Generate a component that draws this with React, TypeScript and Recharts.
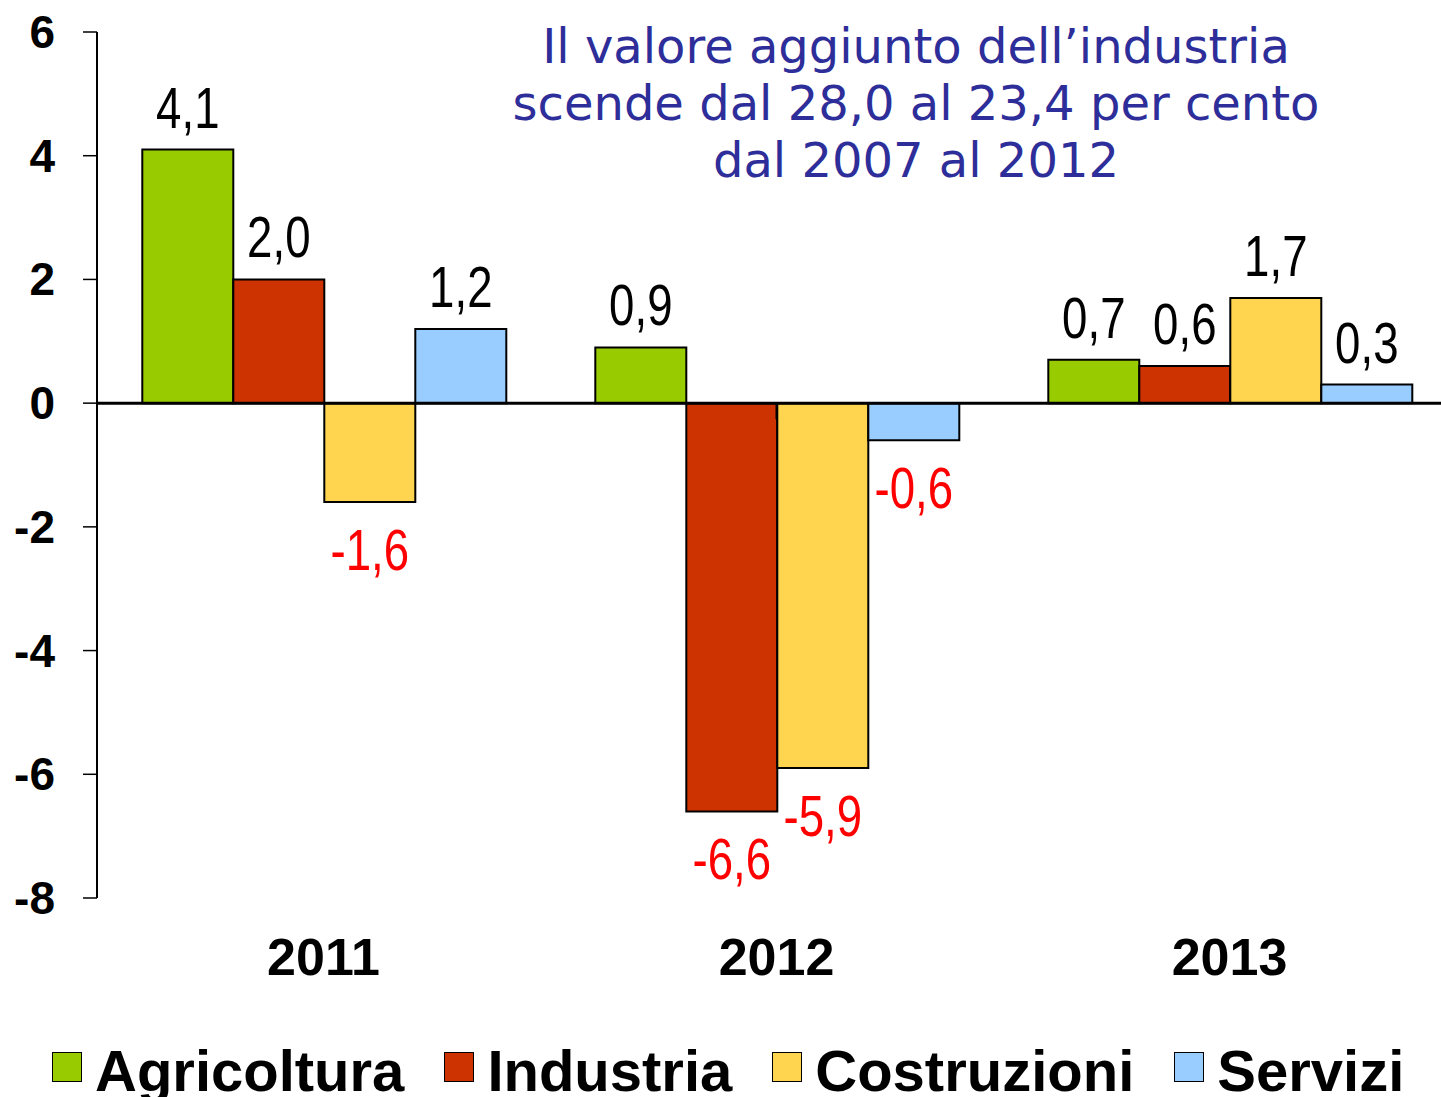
import * as React from "react";
import {
  BarChart,
  Bar,
  XAxis,
  YAxis,
  ReferenceLine,
  LabelList,
  Legend,
} from "recharts";

// values (percent change)
const years = ["2011", "2012", "2013"];
const agricoltura = [4.1, 0.9, 0.7];
const industria = [2.0, -6.6, 0.6];
const costruzioni = [-1.6, -5.9, 1.7];
const servizi = [1.2, -0.6, 0.3];
const yTicks = [-8, -6, -4, -2, 0, 2, 4, 6];
const titleLines = [
  "Il valore aggiunto dell\u2019industria",
  "scende dal 28,0 al 23,4 per cento",
  "dal 2007 al 2012",
];

const series = [
  { key: "Agricoltura", color: "#99CC00" },
  { key: "Industria", color: "#CC3300" },
  { key: "Costruzioni", color: "#FFD44F" },
  { key: "Servizi", color: "#99CCFF" },
];

const data = years.map((year, i) => ({
  year,
  Agricoltura: agricoltura[i],
  Industria: industria[i],
  Costruzioni: costruzioni[i],
  Servizi: servizi[i],
}));

const ARIAL = "'Liberation Sans', Arial, sans-serif";
const fmt = (v: number) => v.toFixed(1).replace(".", ",");

// value label: black above positive bars, red below negative ones
// (narrow face faked with a horizontal squeeze)
const ValueLabel = (props: any) => {
  const { x, y, width, height, value } = props;
  const top = Math.min(y, y + height);
  const bottom = Math.max(y, y + height);
  const neg = value < 0;
  const cx = x + width / 2;
  const by = neg ? bottom + 68 : top - 22;
  return (
    <text
      transform={`translate(${cx},${by}) scale(0.8,1)`}
      textAnchor="middle"
      fontFamily={ARIAL}
      fontSize={57}
      fill={neg ? "#FF0000" : "#000000"}
    >
      {fmt(value)}
    </text>
  );
};

const YTick = (props: any) => {
  const { x, y, payload } = props;
  return (
    <text
      x={x}
      y={y + 16}
      textAnchor="end"
      fontFamily={ARIAL}
      fontWeight="bold"
      fontSize={46}
      fill="#000"
    >
      {payload.value}
    </text>
  );
};

const LegendContent = () => (
  <div
    style={{
      display: "flex",
      paddingLeft: 52,
      fontFamily: ARIAL,
      fontWeight: "bold",
      fontSize: 58,
      lineHeight: "57px",
      color: "#000",
    }}
  >
    {series.map((s) => (
      <div key={s.key} style={{ display: "flex", marginRight: 40 }}>
        <div
          style={{
            width: 28,
            height: 28,
            marginTop: 10,
            marginRight: 13,
            background: s.color,
            border: "1.5px solid #000",
          }}
        />
        <span>{s.key}</span>
      </div>
    ))}
  </div>
);

export default function App() {
  return (
    <div
      style={{
        position: "absolute",
        left: 0,
        top: 0,
        width: 1441,
        height: 1097,
        overflow: "hidden",
        background: "#fff",
      }}
    >
      <div
        style={{
          position: "absolute",
          left: 916 - 500,
          top: 18,
          width: 1000,
          textAlign: "center",
          fontFamily: "'DejaVu Sans', Verdana, sans-serif",
          fontSize: 48,
          lineHeight: "57px",
          color: "#2E2E9A",
          zIndex: 2,
        }}
      >
        {titleLines.map((l) => (
          <div key={l}>{l}</div>
        ))}
      </div>
      <BarChart
        width={1470}
        height={1097}
        data={data}
        margin={{ top: 32, right: 14, left: 0, bottom: 39 }}
        barCategoryGap="10%"
        barGap={0}
      >
        <XAxis
          dataKey="year"
          axisLine={false}
          tickLine={false}
          height={80}
          tickMargin={34}
          tick={{
            fontSize: 52,
            fontWeight: "bold",
            fill: "#000",
            fontFamily: ARIAL,
          }}
        />
        <XAxis xAxisId="bounds" type="number" domain={[0, 3]} hide />
        <YAxis
          domain={[-8, 6]}
          ticks={yTicks}
          width={97}
          interval={0}
          axisLine={{ stroke: "#000", strokeWidth: 2 }}
          tickLine={{ stroke: "#000", strokeWidth: 1.5 }}
          tickSize={14}
          tickMargin={28}
          tick={<YTick />}
        />
        <Legend
          verticalAlign="bottom"
          content={<LegendContent />}
          wrapperStyle={{ top: 1042, left: 0, width: 1441, height: 80 }}
        />
        {series.map((s) => (
          <Bar
            key={s.key}
            dataKey={s.key}
            fill={s.color}
            stroke="#000"
            strokeWidth={2}
            isAnimationActive={false}
          >
            <LabelList dataKey={s.key} content={<ValueLabel />} />
          </Bar>
        ))}
        <ReferenceLine y={0} stroke="#000" strokeWidth={3} />
        {[1, 2].map((b) => (
          <ReferenceLine
            key={b}
            xAxisId="bounds"
            segment={[
              { x: b, y: 0 },
              { x: b, y: -0.26 },
            ]}
            stroke="#000"
            strokeWidth={2}
          />
        ))}
      </BarChart>
    </div>
  );
}
